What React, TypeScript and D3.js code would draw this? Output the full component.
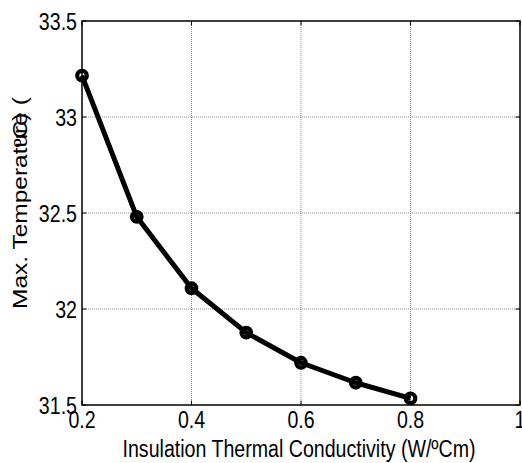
import React, { useEffect, useRef } from 'react';
import * as d3 from 'd3';

const conductivity = [0.2, 0.3, 0.4, 0.5, 0.6, 0.7, 0.8];
const maxTemp = [33.215, 32.48, 32.108, 31.877, 31.72, 31.616, 31.535];
const xTicks = [0.2, 0.4, 0.6, 0.8, 1];
const xTickLabels = ['0.2', '0.4', '0.6', '0.8', '1'];
const yTicks = [31.5, 32, 32.5, 33, 33.5];
const yTickLabels = ['31.5', '32', '32.5', '33', '33.5'];
const xLabel = 'Insulation Thermal Conductivity (W/ºCm)';
const yLabelMain = 'Max. Temperature (';
const yLabelOverlay = 'ºC)';

const W = 522;
const H = 463;
const M = { left: 82, right: 520, top: 21, bottom: 405 };
const FONT = '"Liberation Sans", Arial, sans-serif';
const FS = 24.5;
const SX = 0.8;

export default function App() {
  const ref = useRef<SVGSVGElement>(null);
  useEffect(() => {
    const svg = d3.select(ref.current);
    svg.selectAll('*').remove();
    const x = d3.scaleLinear().domain([0.2, 1]).range([M.left, M.right]);
    const y = d3.scaleLinear().domain([31.5, 33.5]).range([M.bottom, M.top]);

    svg.append('rect').attr('width', W).attr('height', H).attr('fill', '#fff');

    const grid = svg.append('g').attr('stroke', '#8c8c8c').attr('stroke-width', 1).attr('stroke-dasharray', '1,1');
    xTicks.slice(1, -1).forEach((t) => {
      grid.append('line').attr('x1', x(t)).attr('x2', x(t)).attr('y1', M.top).attr('y2', M.bottom);
    });
    yTicks.slice(1, -1).forEach((t) => {
      grid.append('line').attr('x1', M.left).attr('x2', M.right).attr('y1', y(t)).attr('y2', y(t));
    });

    const tk = svg.append('g').attr('stroke', '#000').attr('stroke-width', 1);
    const TL = 4.4;
    xTicks.forEach((t) => {
      tk.append('line').attr('x1', x(t)).attr('x2', x(t)).attr('y1', M.bottom).attr('y2', M.bottom - TL);
      tk.append('line').attr('x1', x(t)).attr('x2', x(t)).attr('y1', M.top).attr('y2', M.top + TL);
    });
    yTicks.forEach((t) => {
      tk.append('line').attr('x1', M.left).attr('x2', M.left + TL).attr('y1', y(t)).attr('y2', y(t));
      tk.append('line').attr('x1', M.right).attr('x2', M.right - TL).attr('y1', y(t)).attr('y2', y(t));
    });

    svg.append('rect')
      .attr('x', M.left).attr('y', M.top)
      .attr('width', M.right - M.left).attr('height', M.bottom - M.top)
      .attr('fill', 'none').attr('stroke', '#000').attr('stroke-width', 1.5);

    const pts = conductivity.map((c, i) => [x(c), y(maxTemp[i])] as [number, number]);
    svg.append('path')
      .attr('d', d3.line()(pts))
      .attr('fill', 'none').attr('stroke', '#000').attr('stroke-width', 5)
      .attr('stroke-linejoin', 'round');
    svg.append('g').selectAll('circle').data(pts).join('circle')
      .attr('cx', (d) => d[0]).attr('cy', (d) => d[1]).attr('r', 4.8)
      .attr('fill', 'none').attr('stroke', '#000').attr('stroke-width', 4.2);

    const txt = svg.append('g').attr('font-family', FONT).attr('font-size', FS).attr('fill', '#000');
    xTicks.forEach((t, i) => {
      txt.append('text')
        .attr('transform', `translate(${x(t)},428) scale(${SX},1)`)
        .attr('text-anchor', 'middle')
        .text(xTickLabels[i]);
    });
    yTicks.forEach((t, i) => {
      txt.append('text')
        .attr('transform', `translate(77,${y(t) + 8.8}) scale(${SX},1)`)
        .attr('text-anchor', 'end')
        .text(yTickLabels[i]);
    });
    txt.append('text')
      .attr('transform', `translate(${(M.left + M.right) / 2 - 2},457) scale(${SX},1)`)
      .attr('text-anchor', 'middle')
      .text(xLabel);

    const yl = txt.append('g').attr('transform', `translate(27,309) scale(${SX},1) rotate(-90)`);
    const main = yl.append('text').attr('x', 0).attr('y', 0).text(yLabelMain);
    let off = 170;
    try {
      off = (main.node() as SVGTextElement).getSubStringLength(0, 'Max. Temperat'.length);
    } catch (e) {}
    yl.append('text').attr('x', off).attr('y', 0).text(yLabelOverlay);
  }, []);
  return <svg ref={ref} width={W} height={H} style={{ position: 'absolute', left: 0, top: 0 }} />;
}
